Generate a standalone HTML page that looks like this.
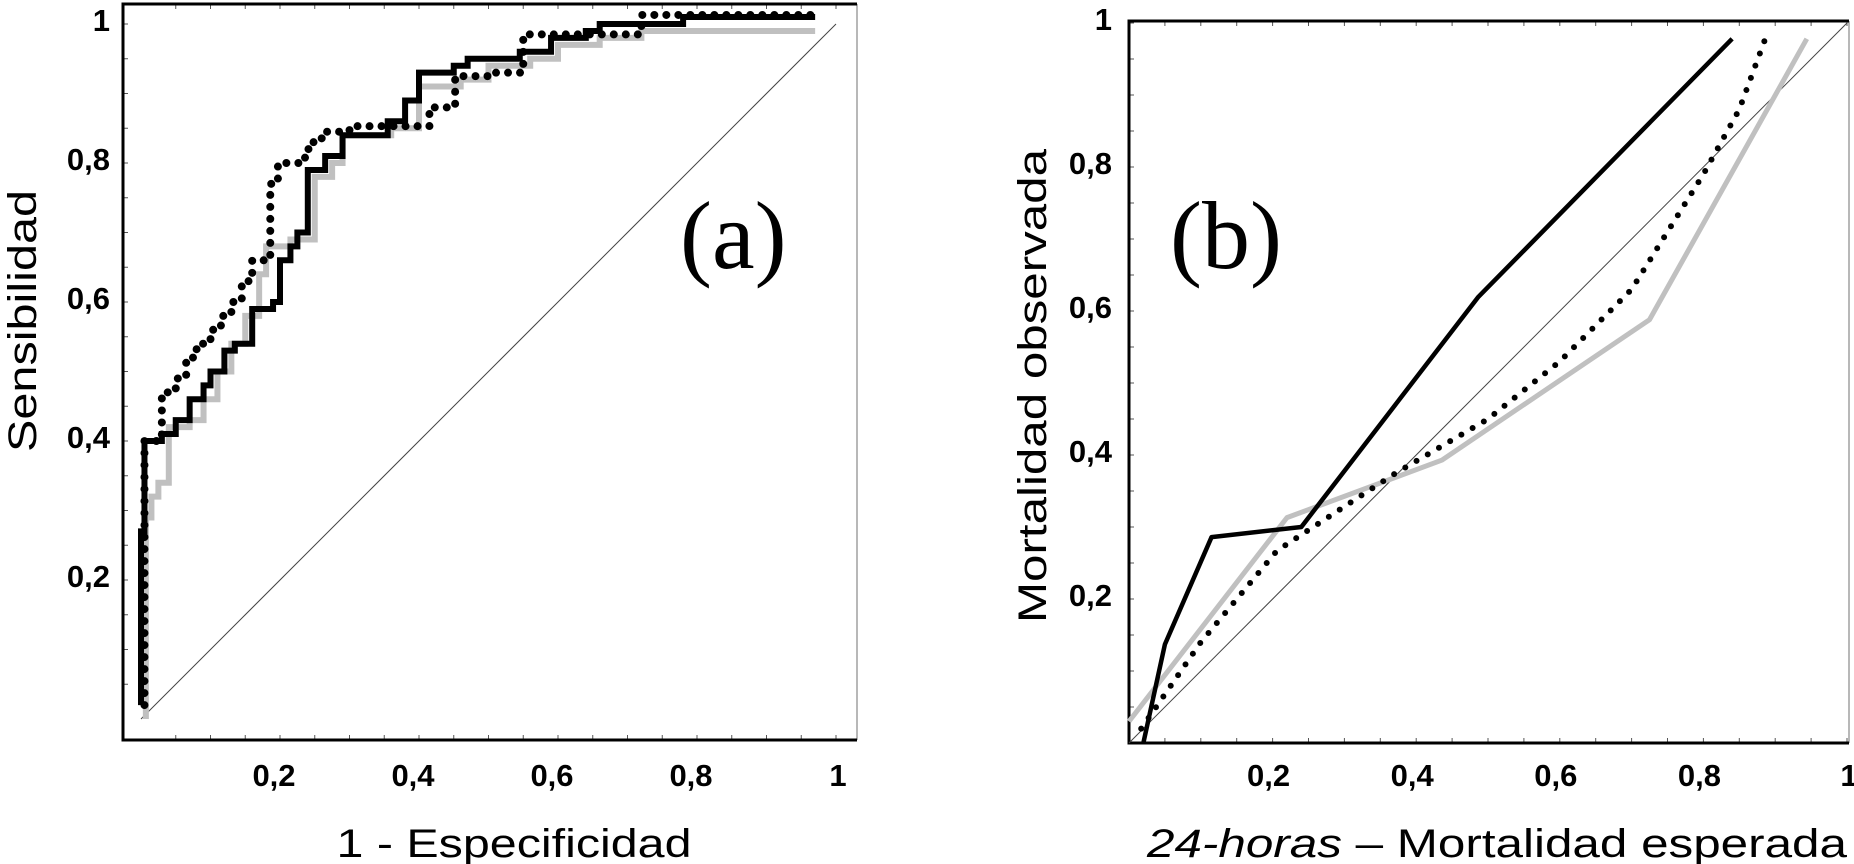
<!DOCTYPE html>
<html><head><meta charset="utf-8">
<style>
html,body{margin:0;padding:0;background:#fff;}
svg{display:block;}
.tick{font-family:"Liberation Sans",sans-serif;font-weight:bold;font-size:31px;fill:#000;}
.title{font-family:"Liberation Sans",sans-serif;font-size:40px;fill:#000;}
.panel{font-family:"Liberation Serif",serif;font-size:96px;fill:#000;}
</style></head>
<body>
<svg id="chart" width="1854" height="864" viewBox="0 0 1854 864" xmlns="http://www.w3.org/2000/svg">
<g id="gA"></g>
<g id="gB"></g>
</svg>
<script>
// ---- Panel (a) ROC data: step x positions and levels reached ----
const rocBlackX = [0, 0.005, 0.03, 0.05, 0.07, 0.09, 0.10, 0.12, 0.135, 0.16, 0.19, 0.20, 0.215, 0.225, 0.24, 0.265, 0.29, 0.355, 0.38, 0.40, 0.45, 0.47, 0.545, 0.59, 0.64, 0.66, 0.78];
const rocBlackY = [0.27, 0.40, 0.41, 0.43, 0.46, 0.48, 0.50, 0.53, 0.54, 0.59, 0.60, 0.66, 0.68, 0.70, 0.79, 0.81, 0.84, 0.86, 0.89, 0.93, 0.94, 0.95, 0.96, 0.98, 0.99, 1.00, 1.01];
const rocBlackStart = [0, 0.02];
const rocGrayX = [0.007, 0.015, 0.025, 0.04, 0.07, 0.09, 0.11, 0.13, 0.15, 0.17, 0.18, 0.215, 0.25, 0.275, 0.29, 0.36, 0.40, 0.46, 0.50, 0.56, 0.60, 0.66, 0.72];
const rocGrayY = [0.29, 0.32, 0.34, 0.42, 0.43, 0.46, 0.50, 0.54, 0.58, 0.64, 0.68, 0.69, 0.78, 0.80, 0.84, 0.85, 0.91, 0.92, 0.94, 0.95, 0.97, 0.98, 0.99];
const rocGrayStart = [0.007, 0.0];
const rocDotX = [0.005, 0.03, 0.05, 0.065, 0.08, 0.10, 0.115, 0.13, 0.145, 0.16, 0.186, 0.197, 0.236, 0.245, 0.26, 0.30, 0.415, 0.452, 0.506, 0.55, 0.72];
const rocDotY = [0.40, 0.47, 0.49, 0.52, 0.54, 0.56, 0.58, 0.60, 0.63, 0.66, 0.77, 0.80, 0.82, 0.83, 0.845, 0.853, 0.88, 0.925, 0.93, 0.985, 1.013];
const rocDotStart = [0.005, 0.02];
const rocEndX = 0.97;
// ---- Panel (b) calibration data ----
const calBlackX = [0.02, 0.05, 0.115, 0.24, 0.486, 0.84];
const calBlackY = [0.0, 0.137, 0.286, 0.30, 0.619, 0.978];
const calGrayX = [0.0, 0.22, 0.436, 0.725, 0.944];
const calGrayY = [0.03, 0.313, 0.393, 0.588, 0.978];
const calDotX = [0.017, 0.10, 0.206, 0.37, 0.50, 0.60, 0.70, 0.75, 0.80, 0.85, 0.885];
const calDotY = [0.02, 0.14, 0.267, 0.374, 0.45, 0.53, 0.63, 0.71, 0.79, 0.88, 0.975];
const tickVals = [0.2, 0.4, 0.6, 0.8, 1];
const tickLabels = ["0,2", "0,4", "0,6", "0,8", "1"];

const NS = "http://www.w3.org/2000/svg";
function mk(parent, tag, attrs, text) {
  const e = document.createElementNS(NS, tag);
  for (const k in attrs) e.setAttribute(k, attrs[k]);
  if (text !== undefined) e.textContent = text;
  parent.appendChild(e);
  return e;
}
const gA = document.getElementById('gA');
const gB = document.getElementById('gB');

const xA = v => 141 + 695 * v;
const yA = v => 719 - 695 * v;
const xB = v => 1129 + 718 * v;
const yB = v => 743 - 720 * v;

function frame(g, L, T, R, B, xf, yf) {
  for (let i = 1; i <= 20; i++) {
    const v = i * 0.05;
    const px = xf(v), py = yf(v);
    if (px < R) {
      let t = mk(g, 'line', {x1: px, y1: B, x2: px, y2: B - 5, stroke: '#555', 'stroke-width': 1});
      
      
      t = mk(g, 'line', {x1: px, y1: T, x2: px, y2: T + 5, stroke: '#555', 'stroke-width': 1});
      
      
    }
    if (py > T) {
      let t = mk(g, 'line', {x1: L, y1: py, x2: L + 5, y2: py, stroke: '#555', 'stroke-width': 1});
      
      
    }
  }
  let r = mk(g, 'line', {x1: R, y1: T, x2: R, y2: B, stroke: '#888', 'stroke-width': 1.2});
  
  
  let p = mk(g, 'path', {d: `M${R},${T} L${L},${T} L${L},${B} L${R},${B}`, fill: 'none', stroke: '#000', 'stroke-width': 3});
  
  
}

function labels(g, xf, yf, yLabelRight, xLabelY, dxShift) {
  tickVals.forEach((v, i) => {
    let t = mk(g, 'text', {x: xf(v) + (i === 4 ? 2 : dxShift), y: xLabelY, 'text-anchor': 'middle', class: 'tick'}, tickLabels[i]);
    
    
    t = mk(g, 'text', {x: yLabelRight, y: yf(v) + 7, 'text-anchor': 'end', class: 'tick'}, tickLabels[i]);
    
    
  });
}

function stepPath(start, xs, ys, endX, xf, yf) {
  let d = `M${xf(start[0])},${yf(start[1])}`;
  let curY = start[1];
  for (let i = 0; i < xs.length; i++) {
    d += ` L${xf(xs[i])},${yf(curY)} L${xf(xs[i])},${yf(ys[i])}`;
    curY = ys[i];
  }
  d += ` L${xf(endX)},${yf(curY)}`;
  return d;
}
function linePath(xs, ys, xf, yf) {
  return xs.map((x, i) => (i ? 'L' : 'M') + xf(x) + ',' + yf(ys[i])).join(' ');
}

// ---------- Panel A ----------
frame(gA, 123, 4, 857, 740, xA, yA);
labels(gA, xA, yA, 110, 786, -6);
let diagA = mk(gA, 'line', {x1: xA(0), y1: yA(0), x2: xA(1), y2: yA(1), stroke: '#444', 'stroke-width': 1});


let sA = mk(gA, 'path', {d: stepPath(rocGrayStart, rocGrayX, rocGrayY, rocEndX, xA, yA), fill: 'none', stroke: '#c0c0c0', 'stroke-width': 6});


sA = mk(gA, 'path', {d: stepPath(rocBlackStart, rocBlackX, rocBlackY, rocEndX, xA, yA), fill: 'none', stroke: '#000', 'stroke-width': 6});


sA = mk(gA, 'path', {d: stepPath(rocDotStart, rocDotX, rocDotY, rocEndX, xA, yA), fill: 'none', stroke: '#000', 'stroke-width': 8, 'stroke-linecap': 'round', 'stroke-dasharray': '0 12'});


let tA = mk(gA, 'text', {x: 680, y: 268, class: 'panel'}, '(a)');


tA = mk(gA, 'text', {x: 514, y: 857, 'text-anchor': 'middle', class: 'title', textLength: 355, lengthAdjust: 'spacingAndGlyphs'}, '1 - Especificidad');


tA = mk(gA, 'text', {x: 0, y: 0, 'text-anchor': 'middle', class: 'title', transform: 'translate(36,321) rotate(-90)', textLength: 262, lengthAdjust: 'spacingAndGlyphs'}, 'Sensibilidad');



// ---------- Panel B ----------
frame(gB, 1129, 21, 1849, 743, xB, yB);
labels(gB, xB, yB, 1112, 786, -4);
let diagB = mk(gB, 'line', {x1: xB(0), y1: yB(0), x2: xB(1), y2: yB(1), stroke: '#444', 'stroke-width': 1});


let sB = mk(gB, 'path', {d: linePath(calGrayX, calGrayY, xB, yB), fill: 'none', stroke: '#c0c0c0', 'stroke-width': 5, 'stroke-linejoin': 'round'});


sB = mk(gB, 'path', {d: linePath(calBlackX, calBlackY, xB, yB), fill: 'none', stroke: '#000', 'stroke-width': 4.5, 'stroke-linejoin': 'round'});


sB = mk(gB, 'path', {d: linePath(calDotX, calDotY, xB, yB), fill: 'none', stroke: '#000', 'stroke-width': 6, 'stroke-linecap': 'round', 'stroke-dasharray': '0 13'});


let tB = mk(gB, 'text', {x: 1170, y: 268, class: 'panel'}, '(b)');


tB = mk(gB, 'text', {x: 1497, y: 857, 'text-anchor': 'middle', class: 'title', textLength: 700, lengthAdjust: 'spacingAndGlyphs'});


mk(tB, 'tspan', {'font-style': 'italic'}, '24-horas');
mk(tB, 'tspan', {}, ' \u2013 Mortalidad esperada');
tB = mk(gB, 'text', {x: 0, y: 0, 'text-anchor': 'middle', class: 'title', transform: 'translate(1046,386) rotate(-90)', textLength: 474, lengthAdjust: 'spacingAndGlyphs'}, 'Mortalidad observada');


</script>
</body></html>
